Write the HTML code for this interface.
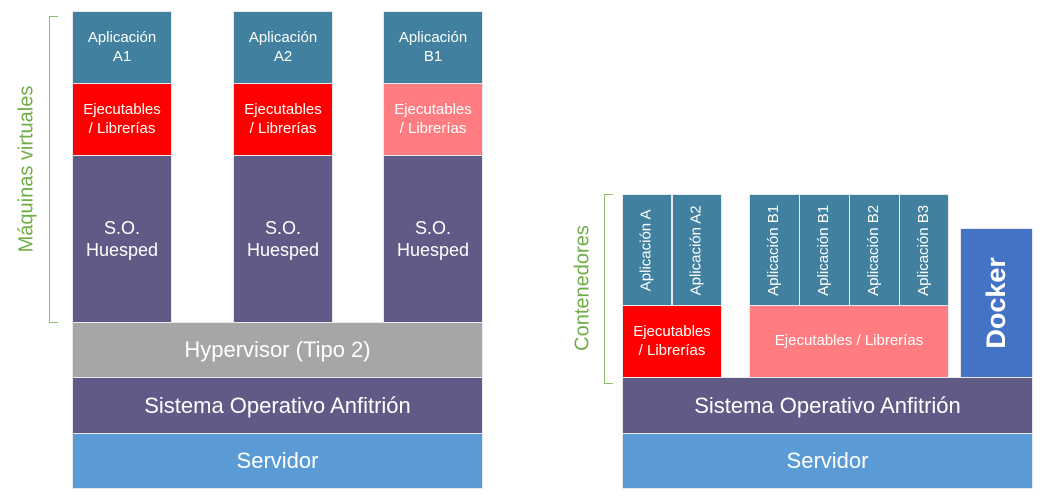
<!DOCTYPE html>
<html><head><meta charset="utf-8"><style>
body{margin:0;width:1044px;height:500px;background:#fff;position:relative;overflow:hidden;font-family:"Liberation Sans",sans-serif;}
.b{position:absolute;box-sizing:border-box;border:1px solid #e8e8ee;color:#fff;display:flex;align-items:center;justify-content:center;text-align:center;line-height:1.25;}
.t{background:#41809e;font-size:15px;}
.r{background:#ff0000;font-size:15px;}
.p{background:#ff7c80;font-size:15px;}
.s{background:#605a87;font-size:18px;line-height:1.25;}
.g{background:#a6a6a6;font-size:22px;}
.h{background:#605a87;font-size:22px;}
.v{background:#5b9bd5;font-size:22px;}
.rot span{transform:rotate(-90deg);white-space:nowrap;display:block;}
.br{position:absolute;border:1.5px solid #8bc06b;border-right:none;}
.lbl{position:absolute;color:#70ad47;font-size:20px;white-space:nowrap;transform:translate(-50%,-50%) rotate(-90deg);}
</style></head><body>
<div class="br" style="left:49px;top:16px;width:8px;height:305px"></div>
<div class="lbl" style="left:27px;top:169px">Máquinas virtuales</div>

<div class="b t" style="left:72px;top:11px;width:100px;height:73px">Aplicación<br>A1</div>
<div class="b r" style="left:72px;top:83px;width:100px;height:73px">Ejecutables<br>/ Librerías</div>
<div class="b s" style="left:72px;top:155px;width:100px;height:168px">S.O.<br>Huesped</div>
<div class="b t" style="left:233px;top:11px;width:100px;height:73px">Aplicación<br>A2</div>
<div class="b r" style="left:233px;top:83px;width:100px;height:73px">Ejecutables<br>/ Librerías</div>
<div class="b s" style="left:233px;top:155px;width:100px;height:168px">S.O.<br>Huesped</div>
<div class="b t" style="left:383px;top:11px;width:100px;height:73px">Aplicación<br>B1</div>
<div class="b p" style="left:383px;top:83px;width:100px;height:73px">Ejecutables<br>/ Librerías</div>
<div class="b s" style="left:383px;top:155px;width:100px;height:168px">S.O.<br>Huesped</div>
<div class="b g" style="left:72px;top:322px;width:411px;height:56px">Hypervisor (Tipo 2)</div>
<div class="b h" style="left:72px;top:377px;width:411px;height:57px">Sistema Operativo Anfitrión</div>
<div class="b v" style="left:72px;top:433px;width:411px;height:56px">Servidor</div>

<div class="br" style="left:604px;top:194px;width:8px;height:188px"></div>
<div class="lbl" style="left:583px;top:288px">Contenedores</div>
<div class="b t rot" style="left:622px;top:194px;width:50px;height:112px"><span>Aplicación A</span></div>
<div class="b t rot" style="left:672px;top:194px;width:50px;height:112px"><span>Aplicación A2</span></div>
<div class="b t rot" style="left:749px;top:194px;width:51px;height:112px"><span>Aplicación B1</span></div>
<div class="b t rot" style="left:799px;top:194px;width:51px;height:112px"><span>Aplicación B1</span></div>
<div class="b t rot" style="left:849px;top:194px;width:51px;height:112px"><span>Aplicación B2</span></div>
<div class="b t rot" style="left:899px;top:194px;width:50px;height:112px"><span>Aplicación B3</span></div>
<div class="b r" style="left:622px;top:305px;width:100px;height:73px">Ejecutables<br>/ Librerías</div>
<div class="b p" style="left:749px;top:305px;width:200px;height:73px">Ejecutables / Librerías</div>
<div class="b rot" style="left:960px;top:228px;width:73px;height:150px;background:#4472c4;font-size:27px;font-weight:bold"><span>Docker</span></div>
<div class="b h" style="left:622px;top:377px;width:411px;height:57px">Sistema Operativo Anfitrión</div>
<div class="b v" style="left:622px;top:433px;width:411px;height:56px">Servidor</div>
</body></html>
